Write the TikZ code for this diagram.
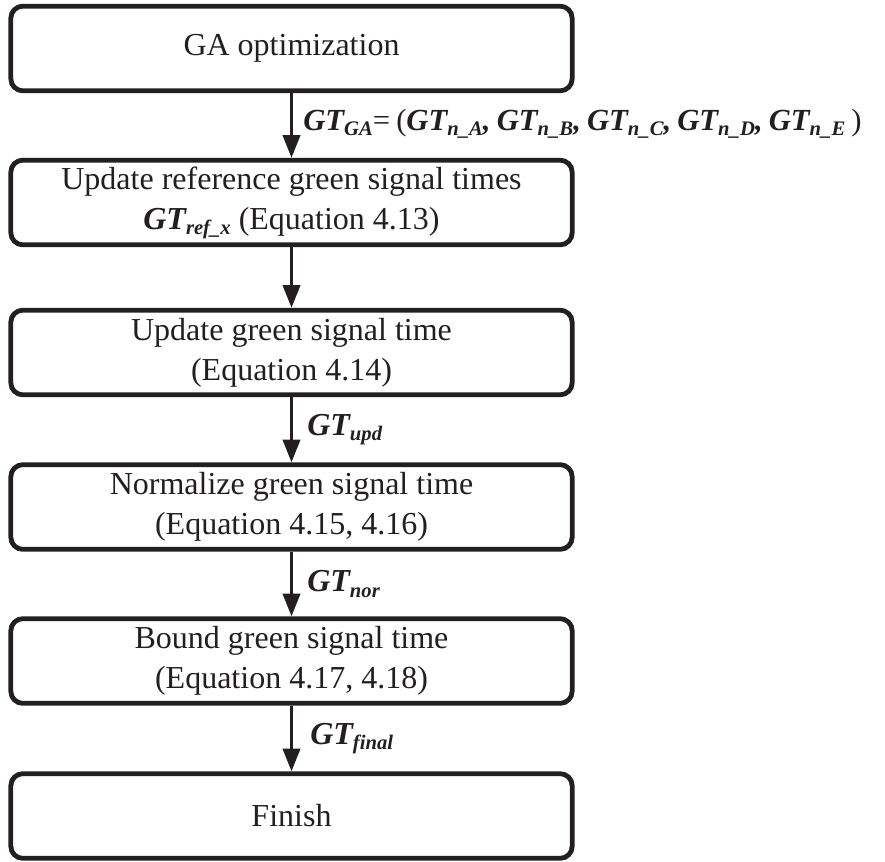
\documentclass[tikz,border=0pt]{standalone}
\usepackage{fontspec}
\setmainfont{Liberation Serif}
\usetikzlibrary{arrows.meta}
\definecolor{ink}{RGB}{35,31,32}
\newcommand{\gsub}[1]{\raisebox{-0.35ex}{\fontsize{15.5}{15.5}\selectfont\bfseries\itshape #1}}
\newcommand{\gtv}[1]{{\bfseries\itshape GT}\gsub{#1}}
\begin{document}
\begin{tikzpicture}[x=0.75pt,y=-0.75pt,
  box/.style={draw=ink, line width=3.6pt, rounded corners=9pt, minimum width=421pt,
    minimum height=63.5pt, inner sep=0pt, align=center, text=ink,
    font=\fontsize{24}{30}\selectfont},
  arr/.style={draw=ink, line width=2.2pt, -{Triangle[width=13pt,length=17pt]}},
  lbl/.style={anchor=west, inner sep=0pt, text=ink, font=\fontsize{24}{30}\selectfont},
  lblsmall/.style={lbl, font=\fontsize{23}{28}\selectfont}]
\useasboundingbox (0,0) rectangle (885,861);

\node[box] (b1) at (291.5,48.5) {GA optimization};
\node[box] (b2) at (291.5,202.5) {Update reference green signal times\\ \gtv{ref\_x} (Equation 4.13)};
\node[box] (b3) at (291.5,352.5) {Update green signal time\\ (Equation 4.14)};
\node[box] (b4) at (291.5,507) {Normalize green signal time\\ (Equation 4.15, 4.16)};
\node[box] (b5) at (291.5,661) {Bound green signal time\\ (Equation 4.17, 4.18)};
\node[box] (b6) at (291.5,816) {Finish};

\draw[arr] (b1.south) -- (b2.north);
\draw[arr] (b2.south) -- (b3.north);
\draw[arr] (b3.south) -- (b4.north);
\draw[arr] (b4.south) -- (b5.north);
\draw[arr] (b5.south) -- (b6.north);

\node[lblsmall] (l1) at (303,124) {\spaceskip=0.2em\gtv{GA}= ({\bfseries\itshape \gtv{n\_A}, \gtv{n\_B}, \gtv{n\_C}, \gtv{n\_D}, \gtv{n\_E}} )};
\node[lbl] (l3) at (307,430) {\gtv{upd}};
\node[lbl] (l4) at (307,584) {\gtv{nor}};
\node[lbl] (l5) at (310,739) {\gtv{final}};
\end{tikzpicture}
\end{document}
